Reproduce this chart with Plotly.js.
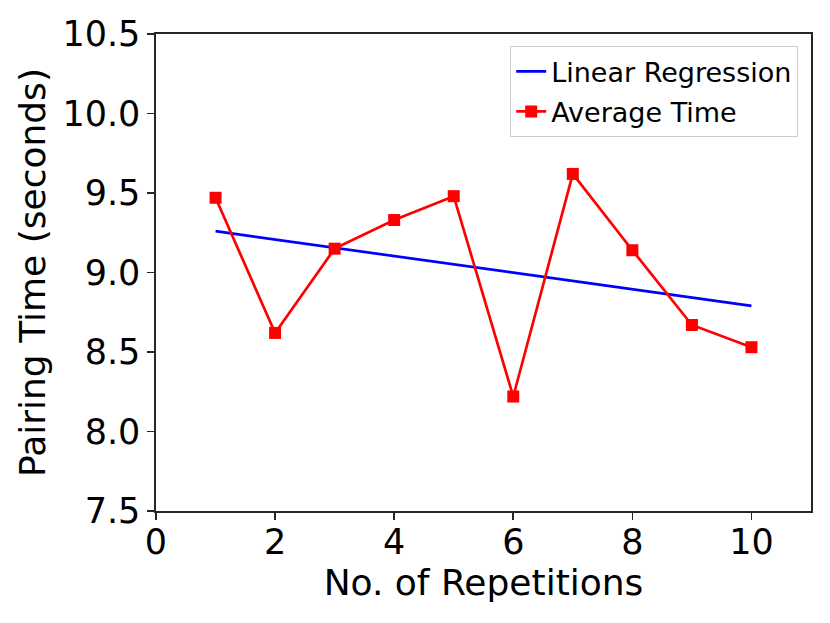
<!DOCTYPE html>
<html>
<head>
<meta charset="utf-8">
<script src="https://cdn.plot.ly/plotly-3.0.1.min.js"></script>
<style>
  html, body { margin: 0; padding: 0; background: #fff; }
  #chart { width: 830px; height: 623px; }
</style>
</head>
<body>
<div id="chart"></div>
<script>
// values
var repetitions = [1, 2, 3, 4, 5, 6, 7, 8, 9, 10];
var avgTime = [9.47, 8.62, 9.15, 9.33, 9.48, 8.22, 9.62, 9.14, 8.67, 8.53];
var regX = [1, 10];
var regY = [9.26, 8.79];
var yTicks = [7.5, 8.0, 8.5, 9.0, 9.5, 10.0, 10.5];
var xTicks = [0, 2, 4, 6, 8, 10];

var font = 'DejaVu Sans, Liberation Sans, sans-serif';

var data = [
  {
    x: regX,
    y: regY,
    mode: 'lines',
    name: 'Linear Regression',
    legendgroup: 'reg',
    line: { color: 'blue', width: 2.7 }
  },
  {
    x: repetitions,
    y: avgTime,
    mode: 'lines+markers',
    name: 'Average Time',
    legendgroup: 'avg',
    line: { color: 'red', width: 2.7 },
    marker: { symbol: 'square', size: 12, color: 'red' }
  }
];

var axisCommon = {
  showgrid: false,
  zeroline: false,
  showline: true,
  linecolor: '#262626',
  linewidth: 1.6,
  mirror: true,
  ticks: 'outside',
  ticklen: 7,
  tickwidth: 1.6,
  tickcolor: '#262626',
  tickfont: { family: font, size: 35, color: '#000' }
};

var layout = {
  width: 830,
  height: 623,
  paper_bgcolor: '#fff',
  plot_bgcolor: '#fff',
  margin: { l: 156, r: 19, t: 34, b: 112 },
  showlegend: true,
  xaxis: Object.assign({}, axisCommon, {
    range: [0, 11],
    tickvals: xTicks,
    ticklabelstandoff: -8,
    title: { text: 'No. of Repetitions', font: { family: font, size: 36, color: '#000' }, standoff: 0 }
  }),
  yaxis: Object.assign({}, axisCommon, {
    range: [7.5, 10.5],
    tickvals: yTicks,
    tickformat: '.1f',
    title: { text: 'Pairing Time (seconds)', font: { family: font, size: 36, color: '#000' }, standoff: 6 }
  }),
  legend: {
    x: 0.98,
    y: 0.975,
    xanchor: 'right',
    yanchor: 'top',
    bgcolor: 'rgba(255,255,255,0.8)',
    bordercolor: '#cccccc',
    borderwidth: 1.3,
    tracegroupgap: 2,
    font: { family: font, size: 27, color: '#000' }
  }
};

Plotly.newPlot('chart', data, layout, { displayModeBar: false, staticPlot: true });
</script>
</body>
</html>
